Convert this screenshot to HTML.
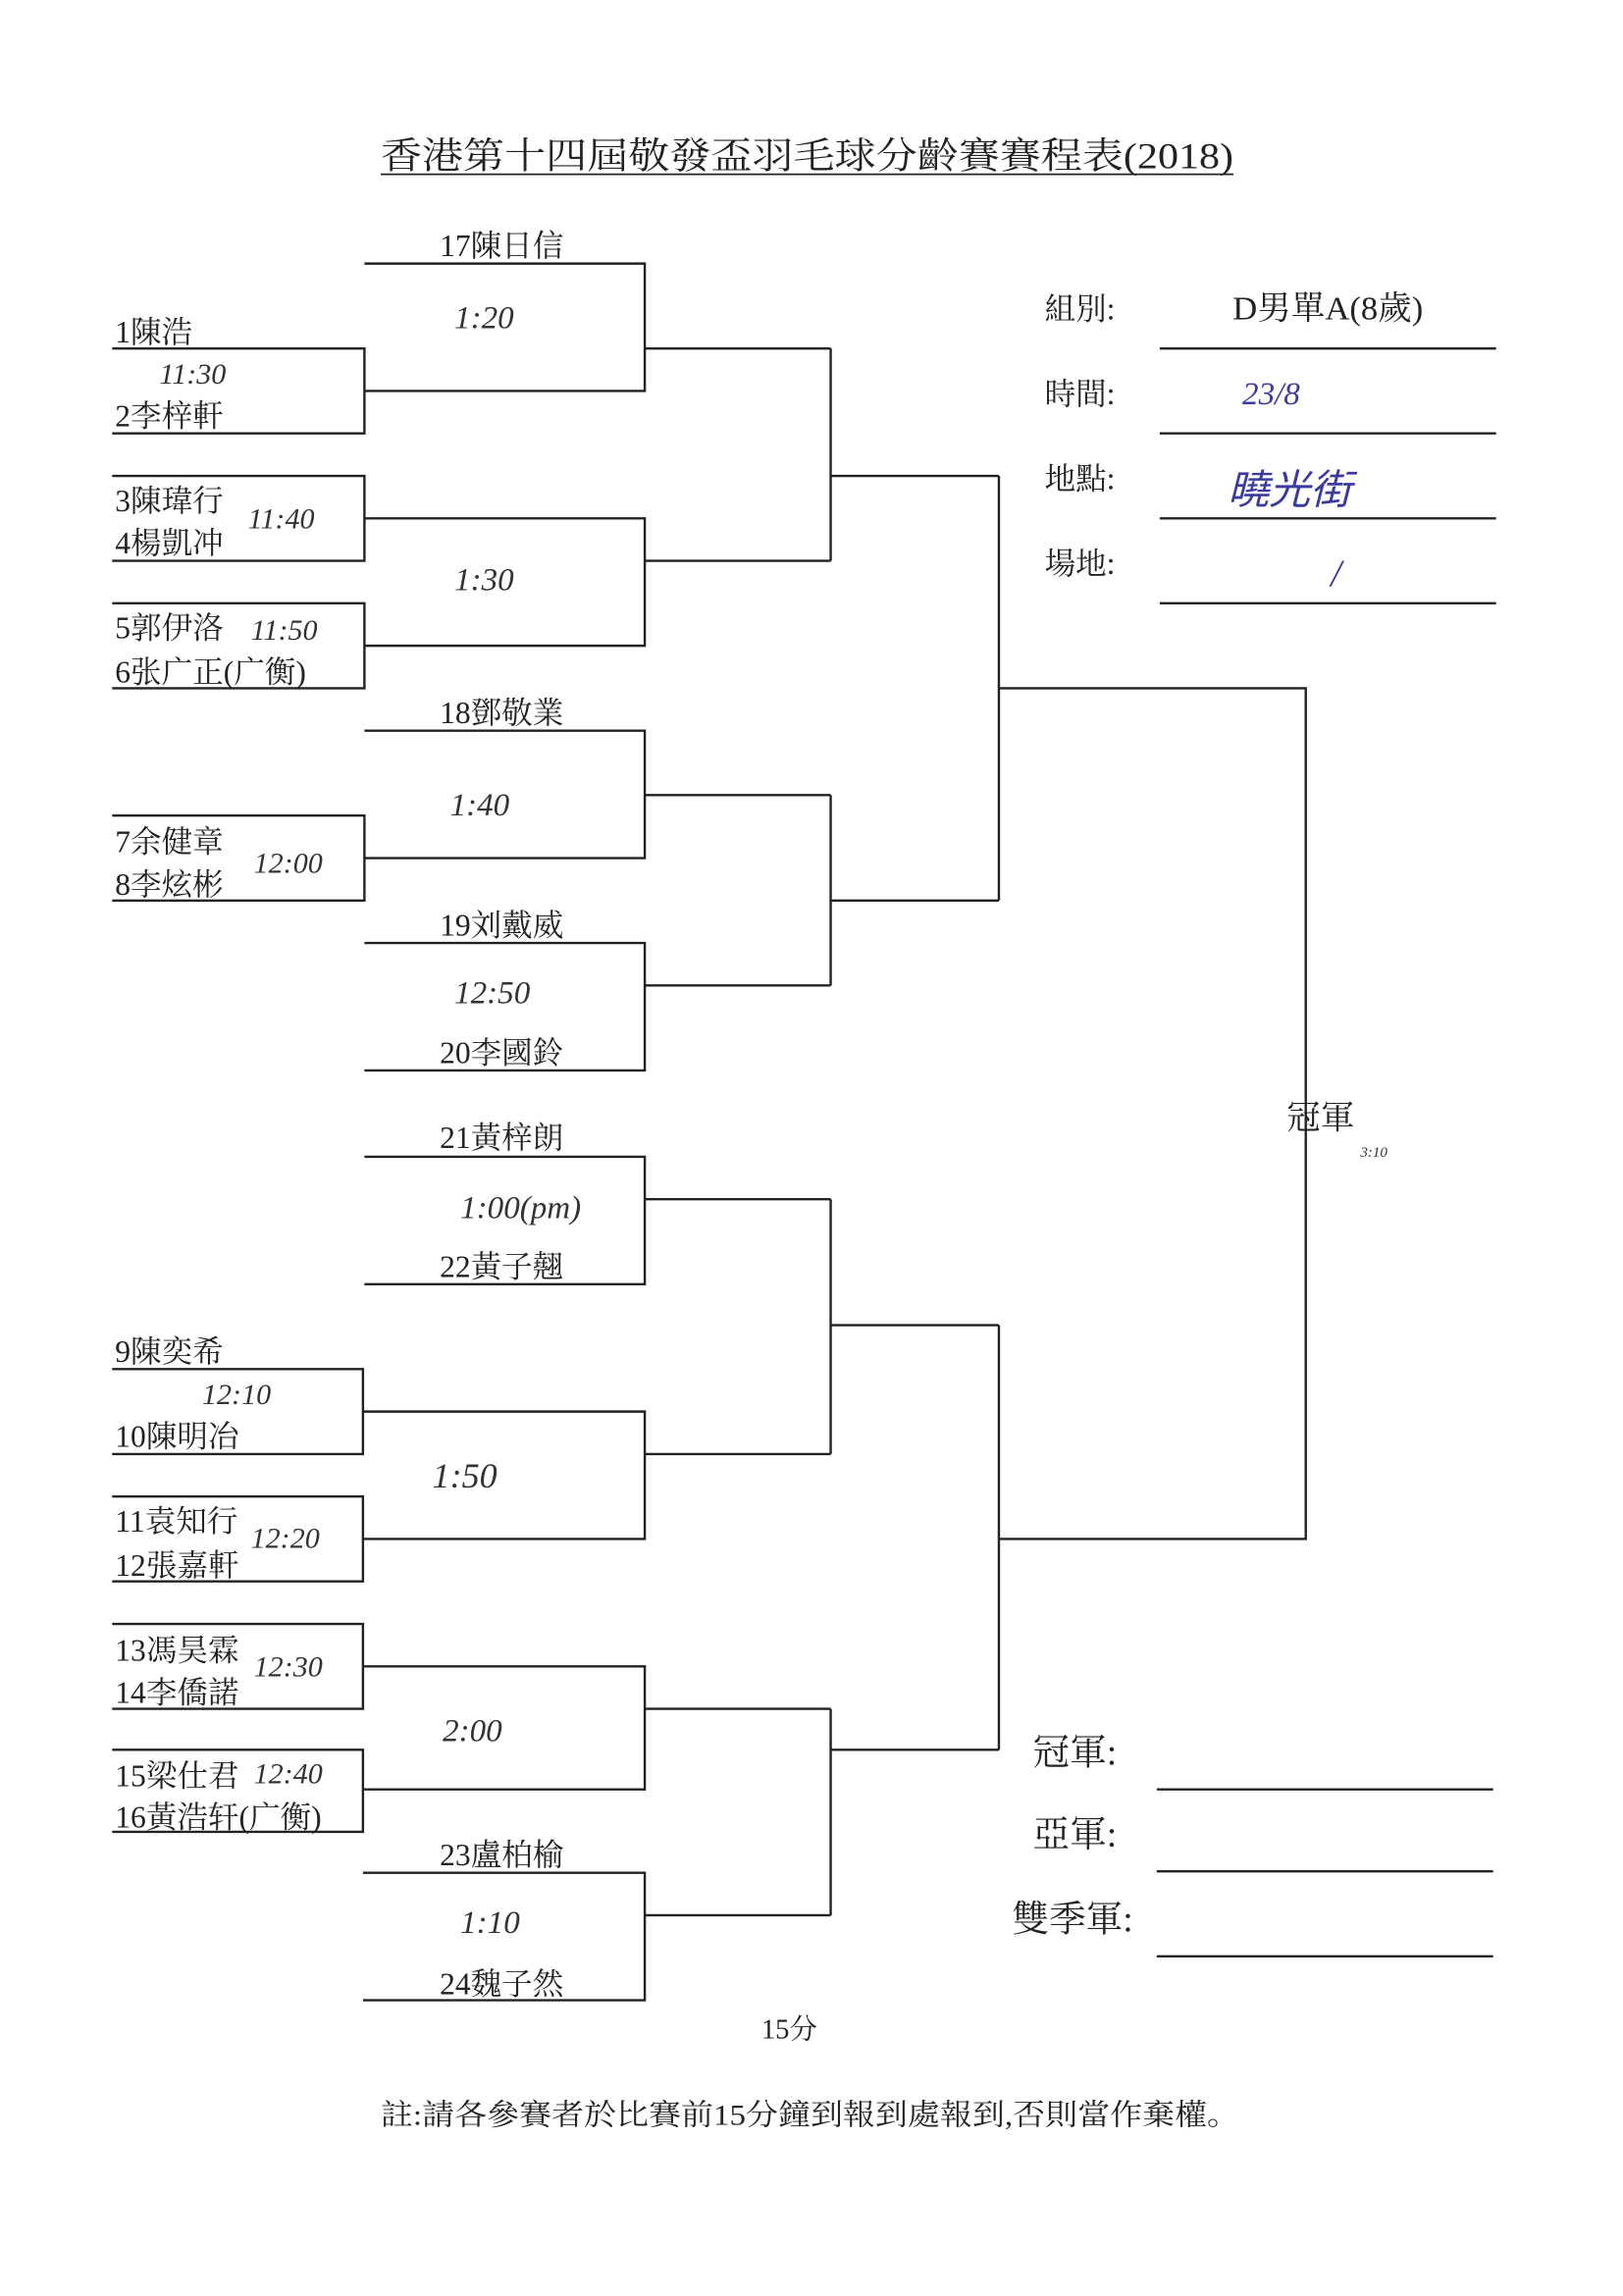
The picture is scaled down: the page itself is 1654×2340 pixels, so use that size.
<!DOCTYPE html>
<html><head><meta charset="utf-8"><style>
html,body{margin:0;padding:0;background:#fff;}
svg{display:block;}
.t{font-family:"Liberation Serif","Noto Serif CJK SC","Noto Sans CJK TC",serif;fill:#222;}
.h{font-family:"Liberation Serif",serif;font-style:italic;fill:#333;}
.b{font-family:"Liberation Serif","Noto Sans CJK TC",serif;font-style:italic;fill:#3b3b9e;}
</style></head><body>
<svg width="1654" height="2340" viewBox="0 0 1100 1568" preserveAspectRatio="none" xmlns="http://www.w3.org/2000/svg">
<rect width="1100" height="1568" fill="#fff"/>
<text class="t" x="258" y="115" font-size="25" textLength="578" lengthAdjust="spacingAndGlyphs">香港第十四屆敬發盃羽毛球分齡賽賽程表(2018)</text>
<line x1="258" y1="119" x2="836" y2="119" stroke="#222" stroke-width="1.2"/>
<g fill="none" stroke="#222" stroke-width="1.6">
<polyline points="76,238 247,238 247,296 76,296"/>
<polyline points="76,325 247,325 247,383 76,383"/>
<polyline points="76,412 247,412 247,470 76,470"/>
<polyline points="76,557 247,557 247,615 76,615"/>
<polyline points="76,935 246,935 246,993 76,993"/>
<polyline points="76,1022 246,1022 246,1080 76,1080"/>
<polyline points="76,1109 246,1109 246,1167 76,1167"/>
<polyline points="76,1195 246,1195 246,1251 76,1251"/>
<polyline points="247,180 437,180 437,267 247,267"/>
<line x1="437" y1="238" x2="563" y2="238"/>
<polyline points="247,354 437,354 437,441 247,441"/>
<line x1="437" y1="383" x2="563" y2="383"/>
<polyline points="563,238 563,383"/>
<line x1="563" y1="325" x2="677" y2="325"/>
<polyline points="247,499 437,499 437,586 247,586"/>
<line x1="437" y1="543" x2="563" y2="543"/>
<polyline points="247,644 437,644 437,731 247,731"/>
<line x1="437" y1="673" x2="563" y2="673"/>
<polyline points="563,543 563,673"/>
<line x1="563" y1="615" x2="677" y2="615"/>
<polyline points="677,325 677,615"/>
<polyline points="677,470 885,470 885,1051 677,1051"/>
<polyline points="247,790 437,790 437,877 247,877"/>
<line x1="437" y1="819" x2="563" y2="819"/>
<polyline points="246,964 437,964 437,1051 246,1051"/>
<line x1="437" y1="993" x2="563" y2="993"/>
<polyline points="563,819 563,993"/>
<line x1="563" y1="905" x2="677" y2="905"/>
<polyline points="246,1138 437,1138 437,1222 246,1222"/>
<line x1="437" y1="1167" x2="563" y2="1167"/>
<polyline points="246,1279 437,1279 437,1366 246,1366"/>
<line x1="437" y1="1308" x2="563" y2="1308"/>
<polyline points="563,1167 563,1308"/>
<line x1="563" y1="1195" x2="677" y2="1195"/>
<polyline points="677,905 677,1195"/>
<line x1="786" y1="238" x2="1014" y2="238"/>
<line x1="786" y1="296" x2="1014" y2="296"/>
<line x1="786" y1="354" x2="1014" y2="354"/>
<line x1="786" y1="412" x2="1014" y2="412"/>
<line x1="784" y1="1222" x2="1012" y2="1222"/>
<line x1="784" y1="1278" x2="1012" y2="1278"/>
<line x1="784" y1="1336" x2="1012" y2="1336"/>
</g>
<g class="t" font-size="21">
<text x="78" y="234">1陳浩</text>
<text x="78" y="291">2李梓軒</text>
<text x="78" y="349">3陳瑋行</text>
<text x="78" y="378">4楊凱冲</text>
<text x="78" y="436">5郭伊洛</text>
<text x="78" y="466">6张广正(广衡)</text>
<text x="78" y="582">7余健章</text>
<text x="78" y="611">8李炫彬</text>
<text x="78" y="930">9陳奕希</text>
<text x="78" y="988">10陳明冶</text>
<text x="78" y="1046">11袁知行</text>
<text x="78" y="1076">12張嘉軒</text>
<text x="78" y="1134">13馮昊霖</text>
<text x="78" y="1163">14李僑諾</text>
<text x="78" y="1220">15梁仕君</text>
<text x="78" y="1248">16黃浩轩(广衡)</text>
<text x="298" y="175">17陳日信</text>
<text x="298" y="494">18鄧敬業</text>
<text x="298" y="639">19刘戴威</text>
<text x="298" y="726">20李國鈴</text>
<text x="298" y="784">21黃梓朗</text>
<text x="298" y="872">22黃子翹</text>
<text x="298" y="1274">23盧柏榆</text>
<text x="298" y="1362">24魏子然</text>
<text x="708" y="218">組別:</text>
<text x="708" y="276">時間:</text>
<text x="708" y="334">地點:</text>
<text x="708" y="392">場地:</text>
<text x="900" y="218" text-anchor="middle" font-size="23">D男單A(8歲)</text>
<text x="872" y="771" font-size="23">冠軍</text>
<text x="700" y="1205" font-size="25">冠軍:</text>
<text x="700" y="1261" font-size="25">亞軍:</text>
<text x="686" y="1319" font-size="25">雙季軍:</text>
<text x="516" y="1392" font-size="19">15分</text>
<text x="258" y="1451" font-size="20" textLength="582" lengthAdjust="spacingAndGlyphs">註:請各參賽者於比賽前15分鐘到報到處報到,否則當作棄權。</text>
</g>
<g class="h" font-size="20">
<text x="108" y="262">11:30</text>
<text x="168" y="361">11:40</text>
<text x="170" y="437">11:50</text>
<text x="172" y="596">12:00</text>
<text x="137" y="959">12:10</text>
<text x="170" y="1057">12:20</text>
<text x="172" y="1145">12:30</text>
<text x="172" y="1218">12:40</text>
<text x="308" y="224" font-size="22">1:20</text>
<text x="308" y="403" font-size="22">1:30</text>
<text x="305" y="557" font-size="22">1:40</text>
<text x="308" y="685" font-size="22">12:50</text>
<text x="312" y="832" font-size="22">1:00(pm)</text>
<text x="293" y="1016" font-size="24">1:50</text>
<text x="300" y="1189" font-size="22">2:00</text>
<text x="312" y="1320" font-size="22">1:10</text>
<text x="922" y="790" font-size="10">3:10</text>
</g>
<g class="b">
<text x="842" y="276" font-size="22">23/8</text>
<text x="832" y="344" font-size="28">曉光街</text>
<text x="902" y="400" font-size="26">/</text>
</g>
</svg>
</body></html>
